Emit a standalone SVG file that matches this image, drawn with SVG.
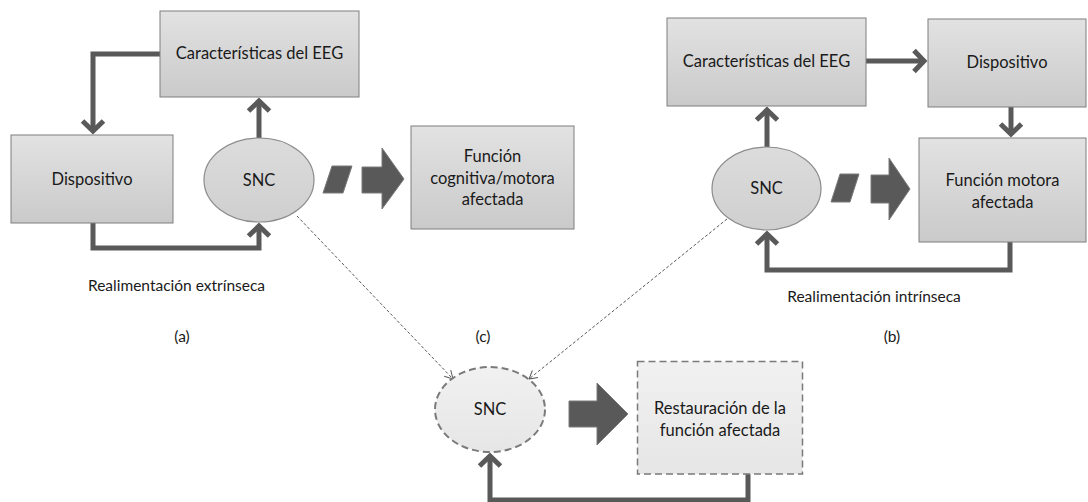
<svg xmlns="http://www.w3.org/2000/svg" width="1088" height="502" viewBox="0 0 1088 502">
<defs>
<linearGradient id="gbox" x1="0" y1="0" x2="0" y2="1">
<stop offset="0" stop-color="#e2e2e2"/>
<stop offset="1" stop-color="#cacaca"/>
</linearGradient>
<linearGradient id="gell" x1="0" y1="0" x2="0" y2="1">
<stop offset="0" stop-color="#dcdcdc"/>
<stop offset="1" stop-color="#cfcfcf"/>
</linearGradient>
<linearGradient id="glight" x1="0" y1="0" x2="0" y2="1">
<stop offset="0" stop-color="#f1f1f1"/>
<stop offset="1" stop-color="#e6e6e6"/>
</linearGradient>
<marker id="chev" markerUnits="userSpaceOnUse" viewBox="-16 -14 20 28" markerWidth="20" markerHeight="28" refX="0" refY="0" orient="auto" overflow="visible">
<path d="M-10,-10.5 L0,0 L-10,10.5" fill="none" stroke="#595959" stroke-width="5" stroke-linejoin="miter"/>
</marker>
<marker id="thin" markerUnits="userSpaceOnUse" viewBox="-10 -6 12 12" markerWidth="12" markerHeight="12" refX="0" refY="0" orient="auto" overflow="visible">
<path d="M-8,-4.5 L0,0 L-8,4.5" fill="none" stroke="#595959" stroke-width="1"/>
</marker>
</defs>
<style>
.box{fill:url(#gbox);stroke:#7f7f7f;stroke-width:1}
.ell{fill:url(#gell);stroke:#8c8c8c;stroke-width:1.2}
.dbox{fill:url(#glight);stroke:#7a7a7a;stroke-width:1.5;stroke-dasharray:7 4}
.dell{fill:url(#glight);stroke:#7a7a7a;stroke-width:2;stroke-dasharray:7 4}
.t{font-family:Lato,"Liberation Sans",sans-serif;font-size:16.5px;fill:#1a1a1a;text-anchor:middle}
.s{font-family:Lato,"Liberation Sans",sans-serif;font-size:15.5px;fill:#1a1a1a;text-anchor:middle}
.c{fill:none;stroke:#595959;stroke-width:5;marker-end:url(#chev)}
.d{fill:none;stroke:#595959;stroke-width:1;stroke-dasharray:3 2;marker-end:url(#thin)}
.blk{fill:#595959;stroke:#7a7a7a;stroke-width:1}
</style>
<rect width="1088" height="502" fill="#ffffff"/>

<g id="connectors">
<path class="c" d="M160,54 H93 V131"/>
<path class="c" d="M259,138 V101"/>
<path class="c" d="M93,223 V248 H259 V226"/>
<path class="c" d="M866,61 H924"/>
<path class="c" d="M767,147 V110"/>
<path class="c" d="M1011,107 V134"/>
<path class="c" d="M1010,242 V270 H767 V234"/>
<path class="c" d="M748,474 V500 H490 V456"/>
<path class="d" d="M297,216 L453,379"/>
<path class="d" d="M727,219 L529,379"/>
<polygon class="blk" points="332,166 352,166 343,193 323,193"/>
<polygon class="blk" points="362,167 382,167 382,148 404,179 382,209 382,193 362,193"/>
<polygon class="blk" points="840,174 859,174 850,202 831,202"/>
<polygon class="blk" points="871,175 889,175 889,158 910,189 889,220 889,203 871,203"/>
<polygon class="blk" points="569,401 597,401 597,383 628,414 597,445 597,427 569,427"/>
</g>

<g id="a-eeg"><rect class="box" x="160" y="11" width="199" height="86"/><text class="t" x="259.5" y="59">Características del EEG</text></g>
<g id="a-disp"><rect class="box" x="11" y="135" width="162" height="88"/><text class="t" x="92" y="185">Dispositivo</text></g>
<g id="a-snc"><ellipse class="ell" cx="259" cy="180" rx="55" ry="42"/><text class="t" x="259" y="185.5">SNC</text></g>
<g id="a-func"><rect class="box" x="411" y="126" width="163" height="103"/><text class="t" x="492.5" y="162">Función</text><text class="t" x="492.5" y="183.5">cognitiva/motora</text><text class="t" x="492.5" y="205">afectada</text></g>
<g id="a-label"><text class="s" x="176.5" y="291">Realimentación extrínseca</text><text class="s" x="182" y="342">(a)</text></g>

<g id="b-eeg"><rect class="box" x="667" y="18" width="199" height="88"/><text class="t" x="766.5" y="67">Características del EEG</text></g>
<g id="b-disp"><rect class="box" x="928" y="19" width="158" height="88"/><text class="t" x="1007" y="68">Dispositivo</text></g>
<g id="b-snc"><ellipse class="ell" cx="766.5" cy="188.5" rx="54.5" ry="41.5"/><text class="t" x="766.5" y="194">SNC</text></g>
<g id="b-func"><rect class="box" x="919" y="138" width="167" height="104"/><text class="t" x="1002.5" y="186">Función motora</text><text class="t" x="1002.5" y="208">afectada</text></g>
<g id="b-label"><text class="s" x="874" y="302">Realimentación intrínseca</text><text class="s" x="892" y="342">(b)</text></g>

<g id="c-label"><text class="s" x="483" y="342">(c)</text></g>
<g id="c-snc"><ellipse class="dell" cx="490" cy="409.5" rx="55" ry="42.5"/><text class="t" x="490" y="415">SNC</text></g>
<g id="c-rest"><rect class="dbox" x="637.5" y="361.5" width="165" height="112.5"/><text class="t" x="720" y="414">Restauración de la</text><text class="t" x="720" y="436">función afectada</text></g>
</svg>
